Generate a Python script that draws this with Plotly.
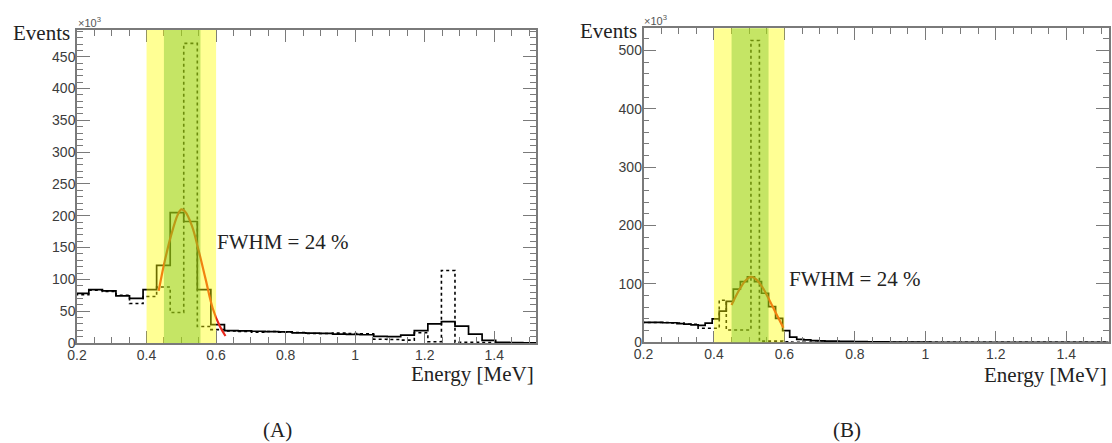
import plotly.graph_objects as go

# ---------------- data ----------------
# Panel A: histograms with uniform bins (start, width)
a_bin_start = 0.195
a_bin_width = 0.039
a_solid = [78, 84, 82, 74, 70, 84, 122, 205, 191, 84, 29, 19.5, 19, 18.5, 18,
           17.5, 16, 15.5, 15, 14, 13.5, 13, 10.5, 10, 12.5, 19.5, 30, 33.5,
           26.5, 14, 4, 1, 0.5, 0.3, 0.2]
a_dotted = [76, 83, 81, 75, 62, 73, 88, 48, 471, 26, 21, 19, 18, 17, 18,
            17, 16.5, 15, 15, 15.5, 15, 14.5, 6, 5.5, 4.5, 16, 2, 114,
            1, 1, 0.8, 0.5, 0, 0, 0]
a_fit_x = [0.435, 0.45, 0.47, 0.49, 0.50, 0.51, 0.53, 0.55, 0.57, 0.59, 0.61, 0.627]
a_fit_y = [82, 123, 168, 202, 210, 207, 185, 145, 100, 55, 27, 11]

# Panel B
b_bin_start = 0.195
b_bin_width = 0.02
b_solid = [34, 34, 34, 33.5, 33.5, 32, 31, 30, 29, 33, 40, 53.5, 70, 91, 104,
           112, 104, 84, 61, 41, 20, 9, 5, 4, 3, 2.5, 2, 2, 1.5, 1.5, 1, 1,
           0.8, 0.7, 0.6, 0.5, 0.4, 0.3, 0.3, 0.2, 0.2, 0.1, 0.1, 0.1, 0, 0,
           0, 0, 0, 0, 0, 0, 0, 0, 0, 0, 0, 0, 0, 0, 0, 0, 0, 0, 0, 0, 0]
b_dotted_edges = [0.195, 0.275, 0.315, 0.355, 0.415, 0.435, 0.505, 0.529, 0.595, 0.62, 1.535]
b_dotted = [34, 33, 31, 24, 72, 21, 517, 2, 0.8, 0]
b_fit_x = [0.45, 0.47, 0.49, 0.505, 0.52, 0.54, 0.56, 0.58, 0.597]
b_fit_y = [64, 88, 106, 112, 108, 92, 69, 45, 25]

x_ticks = [0.2, 0.4, 0.6, 0.8, 1.0, 1.2, 1.4]
x_tick_text = ["0.2", "0.4", "0.6", "0.8", "1", "1.2", "1.4"]
a_y_ticks = [0, 50, 100, 150, 200, 250, 300, 350, 400, 450]
b_y_ticks = [0, 100, 200, 300, 400, 500]

yellow_band = (0.4, 0.6)
green_band = (0.45, 0.555)
fwhm_text = "FWHM = 24 %"

# ---------------- helpers ----------------
W, H = 1112, 443


def px_x(v):
    return v / W


def px_y(v):
    return (H - v) / H


def uniform_edges(start, width, n):
    return [round(start + width * i, 5) for i in range(n + 1)]


def step(edges, counts):
    return list(edges), list(counts) + [counts[-1]]


fig = go.Figure()

a_edges = uniform_edges(a_bin_start, a_bin_width, len(a_solid))
b_edges = uniform_edges(b_bin_start, b_bin_width, len(b_solid))

panels = [
    ("x", "y", a_edges, a_solid, a_edges, a_dotted, a_fit_x, a_fit_y),
    ("x2", "y2", b_edges, b_solid, b_dotted_edges, b_dotted, b_fit_x, b_fit_y),
]
for xa, ya, se, sv, de, dv, fx, fy in panels:
    x, y = step(de, dv)
    fig.add_trace(go.Scatter(x=x, y=y, mode="lines", line_shape="hv",
                             line=dict(color="black", width=1.6, dash="dot"),
                             xaxis=xa, yaxis=ya, showlegend=False))
    x, y = step(se, sv)
    fig.add_trace(go.Scatter(x=x, y=y, mode="lines", line_shape="hv",
                             line=dict(color="black", width=1.7),
                             xaxis=xa, yaxis=ya, showlegend=False))
    fig.add_trace(go.Scatter(x=fx, y=fy, mode="lines", line_shape="spline",
                             line=dict(color="#e8281c", width=2.2),
                             xaxis=xa, yaxis=ya, showlegend=False))

axis_line = "#7a7a7a"
common = dict(showgrid=False, zeroline=False, showline=True, linecolor=axis_line,
              linewidth=1.5, mirror="ticks", ticks="inside", tickwidth=1.4,
              tickcolor=axis_line, automargin=False,
              tickfont=dict(family="Liberation Sans", size=14, color="#3c3c3c"))

# Panel pixel boxes
ax_l, ax_r, ay_t, ay_b = 77, 536, 30, 343
bx_l, bx_r, by_t, by_b = 643.5, 1108.5, 28.3, 342.3

fig.update_layout(
    width=W, height=H, margin=dict(l=0, r=0, t=0, b=0, autoexpand=False),
    paper_bgcolor="white", plot_bgcolor="white",
    xaxis=dict(common, domain=[px_x(ax_l), px_x(ax_r)], range=[0.2, 1.52],
               tickvals=x_ticks, ticktext=x_tick_text, ticklen=12,
               minor=dict(dtick=0.05, tick0=0.2, ticks="inside", ticklen=6,
                          tickwidth=1.2, tickcolor=axis_line),
               anchor="y", ticklabelstandoff=-2),
    yaxis=dict(common, domain=[px_y(ay_b), px_y(ay_t)], range=[0, 492],
               tickvals=a_y_ticks, ticklen=13,
               minor=dict(dtick=10, tick0=0, ticks="inside", ticklen=6,
                          tickwidth=1.2, tickcolor=axis_line),
               anchor="x", ticklabelstandoff=-3),
    xaxis2=dict(common, domain=[px_x(bx_l), px_x(bx_r)], range=[0.2, 1.52],
                tickvals=x_ticks, ticktext=x_tick_text, ticklen=12,
                minor=dict(dtick=0.05, tick0=0.2, ticks="inside", ticklen=6,
                           tickwidth=1.2, tickcolor=axis_line),
                anchor="y2", ticklabelstandoff=-2),
    yaxis2=dict(common, domain=[px_y(by_b), px_y(by_t)], range=[0, 538],
                tickvals=b_y_ticks, ticklen=13,
                minor=dict(dtick=20, tick0=0, ticks="inside", ticklen=6,
                           tickwidth=1.2, tickcolor=axis_line),
                anchor="x2", ticklabelstandoff=-3),
)

# translucent bands drawn over the histograms
for xr, yr in (("x", "y domain"), ("x2", "y2 domain")):
    fig.add_shape(type="rect", xref=xr, yref=yr, x0=yellow_band[0], x1=yellow_band[1],
                  y0=0, y1=1, fillcolor="rgb(255,255,0)", opacity=0.42,
                  line=dict(width=0), layer="above")
    fig.add_shape(type="rect", xref=xr, yref=yr, x0=green_band[0], x1=green_band[1],
                  y0=0, y1=1, fillcolor="rgb(110,190,30)", opacity=0.40,
                  line=dict(width=0), layer="above")

serif = "Liberation Serif"


def ann(text, x, y, xanchor, size, family=serif, color="#222"):
    fig.add_annotation(text=text, x=px_x(x), y=px_y(y), xref="paper", yref="paper",
                       xanchor=xanchor, yanchor="middle", showarrow=False,
                       font=dict(family=family, size=size, color=color))


# Panel A texts
ann("Events", 72, 33, "right", 21)
ann("×10<sup>3</sup>", 76, 22, "left", 11, family="Liberation Sans", color="#555")
ann(fwhm_text, 215, 242, "left", 21)
ann("Energy [MeV]", 536, 374, "right", 21)
ann("(A)", 277, 430, "center", 21)
# Panel B texts
ann("Events", 639, 31, "right", 21)
ann("×10<sup>3</sup>", 642, 20, "left", 11, family="Liberation Sans", color="#555")
ann(fwhm_text, 787, 279, "left", 21)
ann("Energy [MeV]", 1108.5, 375, "right", 21)
ann("(B)", 847, 430, "center", 21)

fig.write_html(
    "out.html",
    config={"displayModeBar": False},
    post_script="document.body.style.margin='0';document.body.style.overflow='hidden';",
)
